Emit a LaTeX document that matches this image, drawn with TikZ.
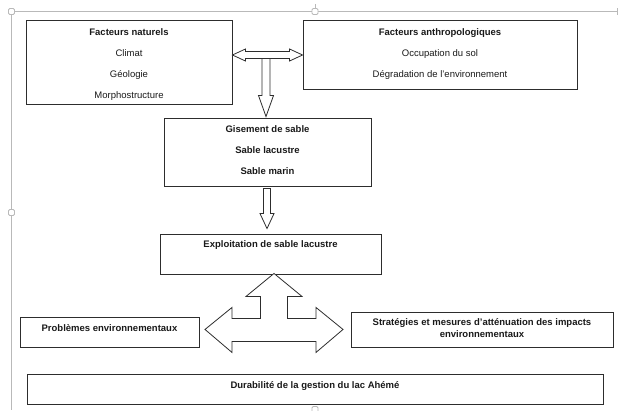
\documentclass[tikz,border=0pt]{standalone}
\usepackage{fontspec}
\setmainfont{Liberation Sans}
\usetikzlibrary{calc}
\definecolor{edge}{RGB}{45,45,45}
\definecolor{frame}{RGB}{185,185,185}
\begin{document}
\begin{tikzpicture}[x=1pt,y=-1pt,
  box/.style={draw=edge,line width=0.9pt,rectangle,inner sep=0pt},
  lab/.style={anchor=north,inner sep=0pt,align=center,text=black!90,
              font=\fontsize{9.5}{21}\selectfont},
  blab/.style={lab,font=\fontsize{9.5}{21}\selectfont\bfseries},
  blockarrow/.style={draw=edge,line width=0.8pt,fill=white,line join=miter},
  handle/.style={draw=frame,fill=white,line width=0.8pt,rounded corners=1.2pt}]
\useasboundingbox (0,0) rectangle (618,410);
% canvas frame
\draw[frame,line width=1.2pt] (11.5,11.5) -- (617,11.5);
\draw[frame,line width=1.2pt] (11.5,11.5) -- (11.5,410);
\draw[frame,line width=0.8pt] (617,8) -- (617,15);
\draw[handle] (8.5,8.5) rectangle (14.5,14.5);
\draw[handle] (8.5,209.5) rectangle (14.5,215.5);
\draw[handle] (312,8.5) rectangle (318,14.5);
\draw[frame,line width=0.8pt] (315,8.5) -- (315,4);
\draw[handle] (312,406.5) rectangle (318,412.5);
% boxes
\node[box,minimum width=206pt,minimum height=84pt,
  label={[lab,yshift=-8.5pt]north:{\textbf{Facteurs naturels}\\Climat\\Géologie\\Morphostructure}}]
  (nat) at (129,62) {};
\node[box,minimum width=274pt,minimum height=69pt,
  label={[lab,yshift=-8.5pt]north:{\textbf{Facteurs anthropologiques}\\Occupation du sol\\Dégradation de l'environnement}}]
  (ant) at (440,54.5) {};
\node[box,minimum width=207pt,minimum height=68pt,
  label={[blab,yshift=-7.6pt]north:{Gisement de sable\\Sable lacustre\\Sable marin}}]
  (gis) at (267.5,152) {};
\node[box,minimum width=221pt,minimum height=40pt,
  label={[blab,yshift=-6.6pt]north:{Exploitation de sable lacustre}}]
  (exp) at (270.5,254) {};
\node[box,minimum width=179pt,minimum height=30pt,
  label={[blab,yshift=-7.4pt]north:{Problèmes environnementaux}}]
  (pro) at (109.5,332) {};
\node[box,minimum width=262pt,minimum height=35pt,
  label={[blab,yshift=-7.2pt,font=\fontsize{9.5}{11.5}\selectfont\bfseries]north:{Stratégies et mesures d'atténuation des impacts\\environnementaux}}]
  (str) at (482,329.5) {};
\node[box,minimum width=576pt,minimum height=30pt,
  label={[blab,yshift=-7.4pt]north:{Durabilité de la gestion du lac Ahémé}}]
  (dur) at (315,389) {};
% horizontal double arrow between the two factor boxes
\coordinate (hl) at (nat.east |- 0,55);
\coordinate (hr) at (ant.west |- 0,55);
\draw[blockarrow] (hl) -- ++(13,-6) -- ++(0,2.5) -- ($(hr)+(-13,-3.5)$) -- ++(0,-2.5)
  -- (hr) -- ++(-13,6) -- ++(0,-2.5) -- ($(hl)+(13,3.5)$) -- ++(0,2.5) -- cycle;
% down arrow to Gisement
\coordinate (t1) at ($(gis.north)+(-1.5,-1)$);
\draw[blockarrow] (t1) -- ++(-7.5,-21) -- ++(3.5,0) -- ++(0,-37) -- ++(8,0)
  -- ++(0,37) -- ++(3.5,0) -- cycle;
% down arrow to Exploitation
\coordinate (t2) at ($(exp.north)+(-3.5,-5)$);
\draw[blockarrow] (t2) -- ++(-7,-15) -- ++(3.5,0) -- ++(0,-25) -- ++(7,0)
  -- ++(0,25) -- ++(3.5,0) -- cycle;
% three-way arrow
\coordinate (t3) at ($(exp.south)+(3.5,-1)$);
\begin{scope}[shift={(t3)}]
\draw[blockarrow] (0,0) -- (28,23) -- (13.5,23) -- (13.5,45) -- (42,45) -- (42,34)
  -- (69,56) -- (42,79) -- (42,68) -- (-42,68) -- (-42,79) -- (-69,56) -- (-42,34)
  -- (-42,45) -- (-13.5,45) -- (-13.5,23) -- (-28,23) -- cycle;
\end{scope}
\end{tikzpicture}
\end{document}
